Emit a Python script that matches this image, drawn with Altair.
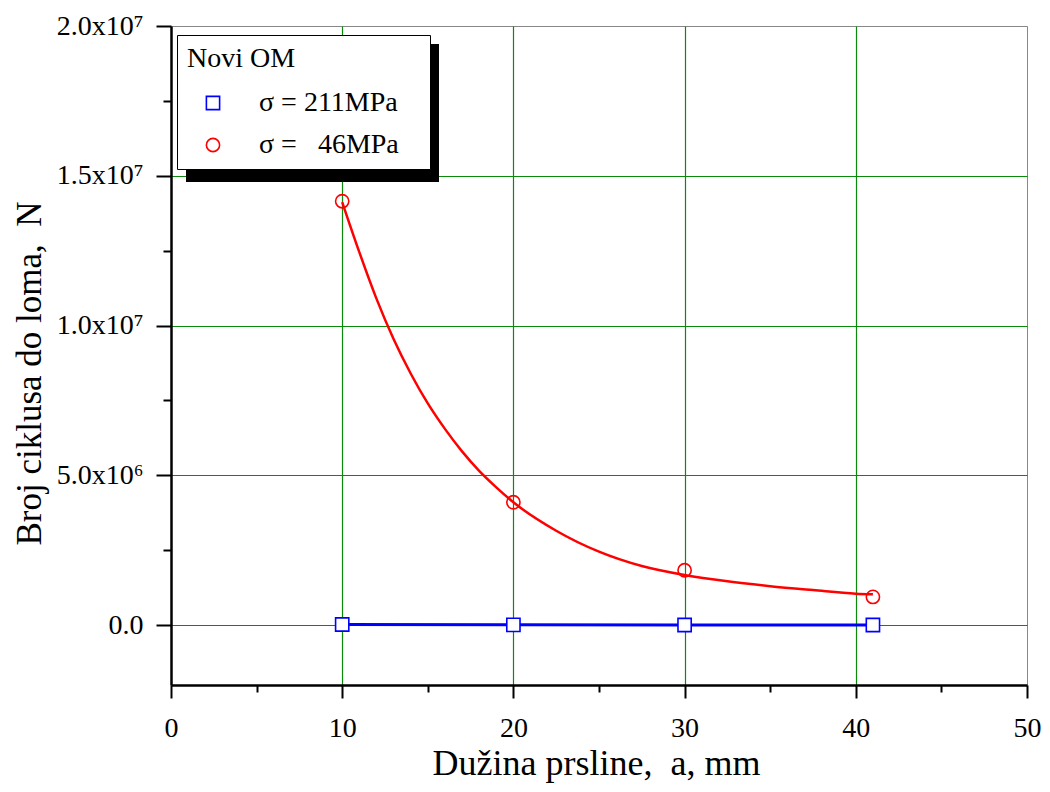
import altair as alt
import pandas as pd

# ---- data ----
a_pts = [10, 20, 30, 41]
n_211 = [20000, 8000, 4000, 2000]                 # sigma = 211 MPa (practically 0)
n_46 = [14150000, 4100000, 1830000, 940000]       # sigma = 46 MPa

curve_a = [10, 11, 12, 13, 14, 15, 16, 17, 18, 19, 20, 22.5, 25, 27.5, 30, 32.5, 35, 37.5, 40, 41]
curve_n = [14120000, 12450000, 10900000, 9550000, 8400000, 7400000, 6550000, 5800000,
           5150000, 4600000, 4100000, 3150000, 2450000, 1970000, 1670000, 1460000,
           1300000, 1170000, 1050000, 1030000]

TAIL = "\u2800"   # blank braille cell: keeps the legend box as wide as in the reference
lab_211 = "σ = 211MPa" + TAIL
lab_46 = "σ =\u00a0\u00a0\u00a046MPa" + TAIL
series_order = [lab_211, lab_46]

x_ticks = [0, 5, 10, 15, 20, 25, 30, 35, 40, 45, 50]
y_ticks = [0, 2500000, 5000000, 7500000, 10000000, 12500000, 15000000, 17500000, 20000000]

pts = pd.DataFrame({
    "a": a_pts + a_pts,
    "N": n_211 + n_46,
    "s": [lab_211] * len(a_pts) + [lab_46] * len(a_pts),
})
blue = pts[pts["s"] == lab_211]
curve = pd.DataFrame({"a": curve_a, "N": curve_n})

FONT = "Liberation Serif"
GREEN = "#0a8a0a"

x_axis = alt.Axis(
    values=x_ticks,
    labelExpr="datum.value % 10 === 0 ? datum.label : ''",
    labelFont=FONT, labelFontSize=28, labelColor="black",
    labelFlush=False, labelOverlap=False,
    labelBaseline="alphabetic", labelPadding=38,
    tickColor="black", tickWidth=2,
    tickSize={"condition": {"test": "datum.value % 10 !== 0", "value": 7}, "value": 13},
    domainColor="black", domainWidth=2.5,
    grid=True, gridColor=GREEN, gridWidth=1.2,
    gridOpacity={"condition": {"test": "datum.value % 10 === 0 && datum.value > 0 && datum.value < 50", "value": 1}, "value": 0},
    title="Dužina prsline,\u00a0 a, mm",
    titleFont=FONT, titleFontSize=36, titleFontWeight="normal", titleColor="black",
    titleBaseline="alphabetic", titleX=425, titleY=89,
)

y_axis = alt.Axis(
    values=y_ticks,
    labelExpr=("datum.value === 0 ? '0.0' : datum.value === 5000000 ? '5.0x10⁶' : "
               "datum.value === 10000000 ? '1.0x10⁷' : datum.value === 15000000 ? '1.5x10⁷' : "
               "datum.value === 20000000 ? '2.0x10⁷' : ''"),
    labelFont=FONT, labelFontSize=28, labelColor="black",
    labelOverlap=False, labelPadding=13, labelFlush=False,
    tickColor="black", tickWidth=2,
    tickSize={"condition": {"test": "datum.value % 5000000 !== 0", "value": 8}, "value": 15},
    domainColor="black", domainWidth=2.5,
    grid=True, gridColor=GREEN, gridWidth=1.2,
    gridOpacity={"condition": {"test": "datum.value % 5000000 === 0 && datum.value < 20000000", "value": 1}, "value": 0},
    title="Broj ciklusa do loma,\u00a0 N",
    titleFont=FONT, titleFontSize=35, titleFontWeight="normal", titleColor="black",
    titleBaseline="alphabetic", titleX=-131, titleY=347, titleAngle=-90,
)

xs = alt.Scale(domain=[0, 50], nice=False, zero=False)
ys = alt.Scale(domain=[-2000000, 20000000], nice=False, zero=False)

X = alt.X("a:Q", scale=xs, axis=x_axis)
Y = alt.Y("N:Q", scale=ys, axis=y_axis)

shadow = alt.Chart(pd.DataFrame({"k": [0]})).mark_rect(color="black").encode(
    x=alt.value(15), x2=alt.value(268), y=alt.value(18), y2=alt.value(156)
)

blue_line = alt.Chart(blue).mark_line(color="#0000ff", strokeWidth=3).encode(x=X, y=Y)

red_line = alt.Chart(curve).mark_line(color="#ff0000", strokeWidth=2.5, interpolate="monotone").encode(x=X, y=Y)

points = alt.Chart(pts).mark_point(size=175, strokeWidth=1.6, opacity=1).encode(
    x=X, y=Y,
    color=alt.Color("s:N", scale=alt.Scale(domain=series_order, range=["#0000ff", "#ff0000"]),
                    legend=alt.Legend(
                        title="Novi OM", orient="none", legendX=6, legendY=9,
                        fillColor="white", strokeColor="black",
                        padding=10, titleFont=FONT, titleFontSize=28, titleFontWeight="normal",
                        titleColor="black", titlePadding=16,
                        labelFont=FONT, labelFontSize=28, labelColor="black",
                        labelLimit=400,
                        symbolOffset=12, labelOffset=32, rowPadding=14,
                        symbolSize=175, symbolStrokeWidth=1.6,
                    )),
    shape=alt.Shape("s:N", scale=alt.Scale(domain=series_order, range=["square", "circle"]), legend=None),
    fill=alt.condition(f"datum.s === '{lab_211}'", alt.value("white"), alt.value("transparent")),
)

chart = alt.layer(shadow, blue_line, red_line, points).properties(
    width=856, height=659,
    autosize=alt.AutoSizeParams(type="none"),
    padding={"left": 163, "top": 18, "right": 15, "bottom": 99},
).configure(
    background="white", font=FONT
).configure_view(
    stroke="#888888", strokeWidth=1
).configure_axis(
    labelFont=FONT, titleFont=FONT
).configure_legend(
    labelFont=FONT, titleFont=FONT
)

chart.save("out.html", embed_options={"renderer": "svg", "actions": False})
